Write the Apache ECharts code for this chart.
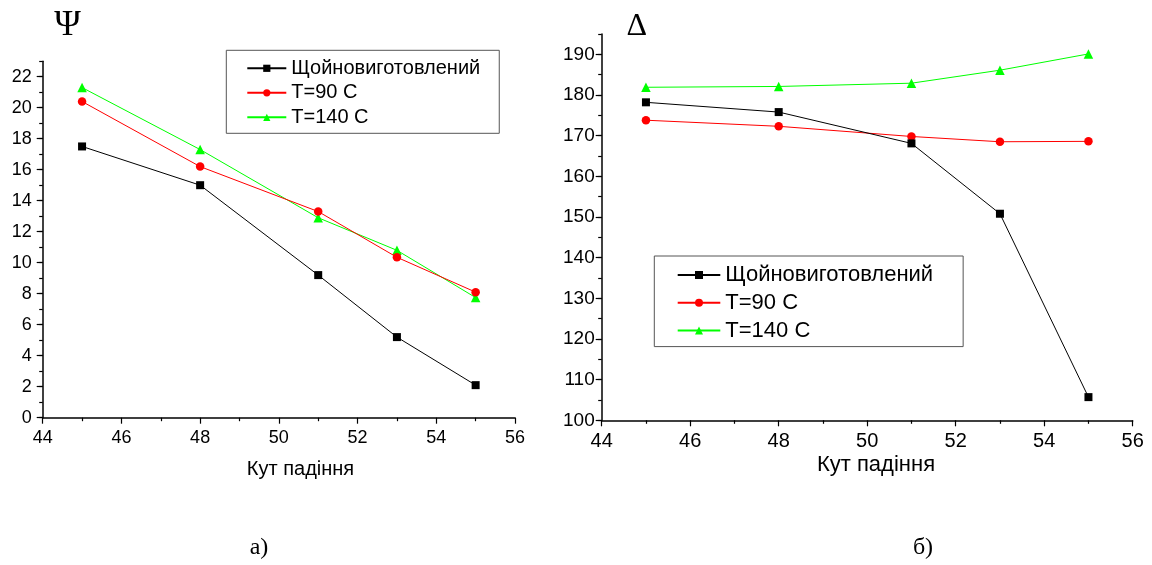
<!DOCTYPE html>
<html>
<head>
<meta charset="utf-8">
<script src="https://cdn.jsdelivr.net/npm/echarts@6/dist/echarts.min.js"></script>
<style>
html,body{margin:0;padding:0;background:#fff;}
#c{width:1152px;height:565px;}
</style>
</head>
<body>
<div id="c"></div>
<script>
// ---- data ----
const angles = [45, 48, 51, 53, 55];
const seriesNames = ['Щойновиготовлений', 'T=90 C', 'T=140 C'];
// Panel a) Psi
const psiFresh = [17.5, 15.0, 9.2, 5.2, 2.1];
const psiT90 = [20.4, 16.2, 13.3, 10.35, 8.1];
const psiT140 = [21.3, 17.3, 12.9, 10.8, 7.75];
// Panel b) Delta
const deltaFresh = [178.2, 175.8, 168.1, 150.8, 105.7];
const deltaT90 = [173.8, 172.3, 169.8, 168.5, 168.6];
const deltaT140 = [181.9, 182.1, 182.9, 186.1, 190.1];
// ticks / labels
const psiMajorTicks = [0, 2, 4, 6, 8, 10, 12, 14, 16, 18, 20, 22];
const deltaMajorTicks = [100, 110, 120, 130, 140, 150, 160, 170, 180, 190];
const xAxisTitle = 'Кут падіння';
const panelTitles = ['Ψ', 'Δ'];
const panelCaptions = ['а)', 'б)'];

const colors = ['#000000', '#ff0000', '#00ff00'];
const symbols = ['rect', 'circle', 'triangle'];
const symSizes = [8, 8.5, 9.5];
const FONT = 'Liberation Sans, Arial, sans-serif';
const SERIF = 'Liberation Serif, Times New Roman, serif';

const pairs = v => angles.map((a, i) => [a, v[i]]);

function mkSeries(name, idx, vals, xi, yi) {
  return {
    name: name, type: 'line', xAxisIndex: xi, yAxisIndex: yi,
    data: pairs(vals), symbol: symbols[idx], symbolSize: symSizes[idx],
    lineStyle: { color: colors[idx], width: 1 },
    itemStyle: { color: colors[idx], borderWidth: 0 },
    emphasis: { disabled: true }, z: 3 + (2 - idx)
  };
}

function xAx(grid, fs, margin) {
  return {
    type: 'value', gridIndex: grid, min: 44, max: 56, interval: 2,
    axisLine: { show: true, onZero: false, lineStyle: { color: '#000', width: 1.5 } },
    axisTick: { show: true, length: 6, lineStyle: { color: '#000', width: 1.2 } },
    minorTick: { show: true, splitNumber: 2, length: 3.5, lineStyle: { color: '#000', width: 1.2 } },
    axisLabel: { color: '#000', fontFamily: FONT, fontSize: fs, margin: margin },
    splitLine: { show: false }, minorSplitLine: { show: false }
  };
}

function yMain(grid, min, max, ticks, fs, margin) {
  return {
    type: 'value', gridIndex: grid, min: min, max: max, interval: 1, position: 'left',
    axisLine: { show: true, onZero: false, lineStyle: { color: '#000', width: 1.5 } },
    axisTick: { show: true, length: 6, customValues: ticks, lineStyle: { color: '#000', width: 1.2 } },
    axisLabel: { color: '#000', fontFamily: FONT, fontSize: fs, margin: margin, customValues: ticks },
    splitLine: { show: false }
  };
}
function yMinor(grid, min, max, step) {
  return {
    type: 'value', gridIndex: grid, min: min, max: max, interval: step, position: 'left', offset: 0,
    axisLine: { show: false },
    axisTick: { show: true, length: 3.5, lineStyle: { color: '#000', width: 1.2 } },
    axisLabel: { show: false },
    splitLine: { show: false }
  };
}

const chart = echarts.init(document.getElementById('c'), null, { renderer: 'canvas' });
chart.setOption({
  animation: false,
  backgroundColor: '#ffffff',
  grid: [
    { left: 42.7, top: 61.2, width: 472.3, height: 356.5 },
    { left: 601.7, top: 34, width: 531, height: 386.3 }
  ],
  xAxis: [xAx(0, 18, 11), xAx(1, 20, 11)],
  yAxis: [
    yMain(0, 0, 23, psiMajorTicks, 18, 11),
    yMinor(0, 0, 23, 1),
    yMain(1, 100, 195, deltaMajorTicks, 19, 7),
    yMinor(1, 100, 195, 5)
  ],
  legend: [
    {
      data: seriesNames, orient: 'vertical', left: 226.3, top: 50.3,
      itemWidth: 39, itemHeight: 9, itemGap: 4.5,
      padding: [8, 19, 6, 20], borderColor: '#555', borderWidth: 1,
      textStyle: { color: '#000', fontFamily: FONT, fontSize: 20, lineHeight: 20 },
      selectedMode: false
    },
    {
      data: seriesNames, orient: 'vertical', left: 654.3, top: 256,
      itemWidth: 42.6, itemHeight: 10, itemGap: 5.8,
      padding: [8, 30, 5, 22.4], borderColor: '#555', borderWidth: 1,
      textStyle: { color: '#000', fontFamily: FONT, fontSize: 22, lineHeight: 22 },
      selectedMode: false
    }
  ],
  series: [
    mkSeries(seriesNames[0], 0, psiFresh, 0, 0),
    mkSeries(seriesNames[1], 1, psiT90, 0, 0),
    mkSeries(seriesNames[2], 2, psiT140, 0, 0),
    mkSeries(seriesNames[0], 0, deltaFresh, 1, 2),
    mkSeries(seriesNames[1], 1, deltaT90, 1, 2),
    mkSeries(seriesNames[2], 2, deltaT140, 1, 2)
  ],
  graphic: [
    { type: 'text', x: 67.5, y: 26, style: { text: panelTitles[0], font: '36px ' + SERIF, fill: '#000', textAlign: 'center', textVerticalAlign: 'middle' } },
    { type: 'text', x: 636.7, y: 27, style: { text: panelTitles[1], font: '32px ' + SERIF, fill: '#000', textAlign: 'center', textVerticalAlign: 'middle' } },
    { type: 'text', x: 300.5, y: 469, style: { text: xAxisTitle, font: '20px ' + FONT, fill: '#000', textAlign: 'center', textVerticalAlign: 'middle' } },
    { type: 'text', x: 876, y: 464.5, style: { text: xAxisTitle, font: '22px ' + FONT, fill: '#000', textAlign: 'center', textVerticalAlign: 'middle' } },
    { type: 'text', x: 259, y: 548, style: { text: panelCaptions[0], font: '24px ' + SERIF, fill: '#000', textAlign: 'center', textVerticalAlign: 'middle' } },
    { type: 'text', x: 923, y: 548, style: { text: panelCaptions[1], font: '24px ' + SERIF, fill: '#000', textAlign: 'center', textVerticalAlign: 'middle' } }
  ]
});
</script>
</body>
</html>
